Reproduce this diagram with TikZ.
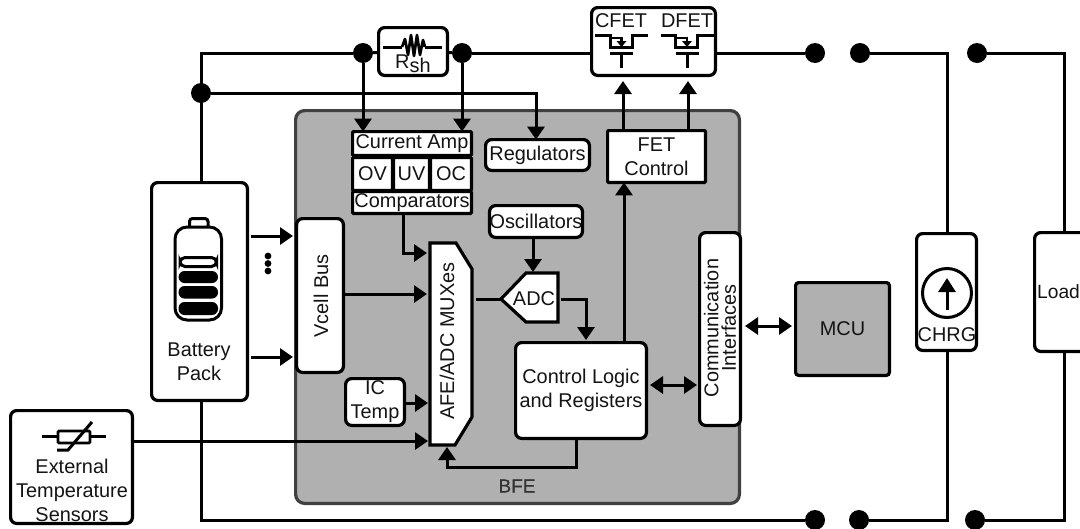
\documentclass[tikz,border=0pt]{standalone}
\usepackage{fontspec}
\setmainfont{Liberation Sans}
\usetikzlibrary{arrows.meta,calc}
\definecolor{bfegray}{HTML}{B0B0B0}
\definecolor{ink}{HTML}{141414}
\newlength{\lw}\setlength{\lw}{3.2pt}
\tikzset{
  wire/.style={line width=3pt,draw=black,line join=miter},
  arr/.style={wire,-{Triangle[length=13pt,width=17pt]}},
  darr/.style={wire,{Triangle[length=13pt,width=17pt]}-{Triangle[length=13pt,width=17pt]}},
  txt/.style={font=\fontsize{19.9}{24}\selectfont,text=ink,align=center,inner sep=0pt},
  box/.style={draw=black,line width=\lw,fill=white,inner sep=0pt,outer sep=0pt,rounded corners=6pt},
  sharpbox/.style={box,rounded corners=1pt},
  dot/.style={circle,fill=black,draw=none,minimum size=20pt,inner sep=0pt},
  sym/.style={line width=3pt,draw=black,line join=miter},
}
% [style] name x1 y1 x2 y2 text
\newcommand{\bx}[7][box]{%
  \pgfmathsetmacro{\bxw}{#5-(#3)-3.2}%
  \pgfmathsetmacro{\bxh}{#6-(#4)-3.2}%
  \pgfmathsetmacro{\bxcx}{(#3+#5)/2}%
  \pgfmathsetmacro{\bxcy}{(#4+#6)/2}%
  \node[#1,txt,minimum width=\bxw pt,minimum height=\bxh pt] (#2) at (\bxcx,\bxcy) {#7};}
\newcommand{\fet}[2]{%
  \begin{scope}[shift={(#1,0)}]
    \draw[sym] (595,35) -- (610,35) -- (610,47) -- (632,47) -- (632,35) -- (648,35);
    \draw[line width=2.4pt] (610,38) -- (621.5,38) -- (621.5,42);
    \fill (616.5,41) -- (626.5,41) -- (621.5,47) -- cycle;
    \draw[sym] (610,53.5) -- (633,53.5);
    \draw[sym] (621.5,53.5) -- (621.5,68);
  \end{scope}}
\begin{document}
\begin{tikzpicture}[x=1pt,y=-1pt]
\useasboundingbox (0,0) rectangle (1080,528);
\clip (0,0) rectangle (1080,528);

% BFE background
\bx[box,fill=bfegray,draw=black!75,rounded corners=9pt]{bfe}{294}{109}{741}{505}{}
\node[txt,text=black!80,font=\fontsize{19}{24}\selectfont\addfontfeature{FakeBold=0.5}] (bfelabel) at (517,486) {BFE};

% junction dots
\node[dot] (dtap) at (201,93) {};
\node[dot] (d1) at (363,53) {};
\node[dot] (d2) at (462,53) {};
\node[dot] (d3) at (815,53) {};
\node[dot] (d4) at (860,53) {};
\node[dot] (d5) at (977,53) {};
\node[dot] (d6) at (815,520) {};
\node[dot] (d7) at (859,520) {};
\node[dot] (d8) at (975,520) {};

% boxes
\bx{batt}{150}{181}{249}{402}{}
\node[txt] (battlabel) at (199,362) {Battery\\[0pt]Pack};
\bx{ext}{9}{409}{134}{525}{}
\node[txt] (extlabel) at (72,490) {External\\Temperature\\Sensors};
\bx{rsh}{377}{26}{449}{77}{}
\bx{fets}{590}{6}{717}{77}{}
\node[txt] (cfet) at (621,21) {CFET};
\node[txt] (dfet) at (687,21) {DFET};
\bx{chrg}{915}{232}{978}{352}{}
\node[txt] (chrglabel) at (947,335) {CHRG};
\bx{load}{1033}{231}{1110}{353}{}
\node[txt,anchor=west,font=\fontsize{19.2}{24}\selectfont] (loadlabel) at (1037,292) {Load};
\bx[sharpbox,rounded corners=3pt,fill=bfegray]{mcu}{794}{281}{891}{377}{MCU}
\bx{vcell}{295}{217}{345}{374}{}
\node[txt,rotate=90] (vcelllabel) at (321,296) {Vcell Bus};
\bx{comm}{698}{231}{742}{427}{}
\node[txt,rotate=90,font=\fontsize{19.9}{17.5}\selectfont] (commlabel) at (720,328) {Communication\\Interfaces};
\bx{ctrl}{514}{341}{648}{440}{Control Logic\\and Registers}
\bx[sharpbox]{fetc}{606}{129}{707}{184}{FET\\Control}
\bx{regs}{484}{138}{591}{172}{Regulators}
\bx{osc}{488}{204}{584}{239}{Oscillators}
\bx{ictemp}{344}{377}{406}{427}{}
\node[txt] (ictemplabel) at (375,402) {IC\\Temp};
\bx[sharpbox]{camp}{351}{130}{473}{157}{Current Amp}
\bx[sharpbox]{ov}{351}{156}{394}{192}{OV}
\bx[sharpbox]{uv}{392}{156}{431}{192}{UV}
\bx[sharpbox]{oc}{429}{156}{473}{192}{OC}
\bx[sharpbox]{comp}{351}{190}{473}{215}{Comparators}

% MUX and ADC outlines
\coordinate (muxa) at (430,243); \coordinate (muxb) at (456,243);
\coordinate (muxc) at (472,269); \coordinate (muxd) at (472,417);
\coordinate (muxe) at (455,445); \coordinate (muxf) at (430,445);
\draw[box,rounded corners=0pt] (muxa) -- (muxb) -- (muxc) -- (muxd) -- (muxe) -- (muxf) -- cycle;
\node[txt,rotate=90] (muxlabel) at (447,341) {AFE/ADC MUXes};
\coordinate (adctip) at (501,299); \coordinate (adcb) at (526,273);
\coordinate (adcc) at (558,273); \coordinate (adcd) at (558,322); \coordinate (adce) at (526,322);
\draw[box,rounded corners=0pt] (adctip) -- (adcb) -- (adcc) -- (adcd) -- (adce) -- cycle;
\node[txt] (adclabel) at (534,299) {ADC};

% power wires
\draw[wire] (batt.north -| dtap) -- (dtap |- d1) -- (d1);
\draw[wire] (d1) -- (rsh);
\draw[wire] (rsh) -- (d2);
\draw[wire] (d2) -- (fets.west |- d2);
\draw[wire] (fets.east |- d3) -- (d3);
\coordinate (chrgx) at (947,53);
\coordinate (loadx) at (1064,53);
\draw[wire] (d4) -- (chrgx) -- (chrg.north -| chrgx);
\draw[wire] (d5) -- (loadx) -- (load.north -| loadx);
\draw[wire] (batt.south -| dtap) -- (dtap |- d6) -- (d6);
\draw[wire] (d7) -- (chrgx |- d7) -- (chrg.south -| chrgx);
\draw[wire] (d8) -- (loadx |- d8) -- (load.south -| loadx);

% signal wires
\coordinate (regx) at (536,93);
\draw[arr] (dtap) -- (regx) -- (regx |- regs.north);
\draw[arr] (d1) -- (d1 |- camp.north);
\draw[arr] (d2) -- (d2 |- camp.north);
\coordinate (g1) at (623,77); \coordinate (g2) at (688,77);
\draw[arr] (g1 |- fetc.north) -- ($(g1)+(0,4)$);
\draw[arr] (g2 |- fetc.north) -- ($(g2)+(0,4)$);
\coordinate (cu) at (624,341);
\draw[arr] (cu) -- (cu |- fetc.south);
\coordinate (ov1) at (533,239);
\draw[arr] (ov1) -- (533,272);
\coordinate (a1) at (403,215); \coordinate (a2) at (427,253);
\draw[arr] (a1) |- (a2);
\coordinate (a3) at (345,294); \coordinate (a4) at (427,294);
\draw[arr] (a3) -- (a4);
\coordinate (a5) at (406,403); \coordinate (a6) at (428,403);
\draw[arr] (a5) -- (a6);
\coordinate (a7) at (134,441); \coordinate (a8) at (428,441);
\draw[arr] (a7) -- (a8);
\coordinate (m1) at (476,299);
\draw[wire] (m1) -- (adctip);
\coordinate (ad1) at (561,299); \coordinate (ad2) at (586,340);
\draw[arr] (ad1) -| (ad2);
\coordinate (fb1) at (576,440); \coordinate (fb2) at (447,467); \coordinate (fb3) at (447,447);
\draw[arr] (fb1) |- (fb2) -- (fb3);
\coordinate (da1) at (650,385); \coordinate (da2) at (697,385);
\draw[darr] (da1) -- (da2);
\coordinate (da3) at (745,326); \coordinate (da4) at (792,326);
\draw[darr] (da3) -- (da4);
\coordinate (b1) at (251,236); \coordinate (b2) at (293,236);
\draw[arr] (b1) -- (b2);
\coordinate (b3) at (251,357); \coordinate (b4) at (293,357);
\draw[arr] (b3) -- (b4);
\fill (268,256) circle (3.4pt) (268,263.5) circle (3.4pt) (268,271) circle (3.4pt);

% Rsh symbol
\draw[sym] (383,47) -- (402,47);
\draw[sym] (425,47) -- (442,47);
\draw[line width=2.7pt,line join=round] (402,47) -- (405,39) -- (408,55) -- (411,35) -- (414,56) -- (417,35) -- (420,55) -- (423,40) -- (425,47);
\node[txt,anchor=base west] (rshlabel) at (395,68) {R\raisebox{-4.5pt}{sh}};

% FET symbols
\fet{0}{}
\fet{65.5}{}

% source circle
\draw[line width=3pt,fill=white] (947,293) circle (24.5pt);
\draw[wire,-{Triangle[length=14pt,width=17pt]}] (947,310) -- (947,278);

% battery icon
\draw[line width=3pt,rounded corners=3pt,fill=white] (189.5,227) -- (189.5,218.5) -- (208,218.5) -- (208,227);
\draw[line width=3pt,rounded corners=12pt,fill=white] (175,227) rectangle (221.5,320);
\draw[line width=3pt,rounded corners=5pt,fill=white] (180,257.5) rectangle (216.5,266.5);
\fill[rounded corners=6pt] (178.5,271) rectangle (218,283);
\fill[rounded corners=6pt] (178.5,286) rectangle (218,298.5);
\fill[rounded corners=6pt] (178.5,302) rectangle (218,315);

% thermistor symbol
\draw[sym] (42,436) -- (106,436);
\draw[line width=2.8pt,fill=white,rounded corners=1pt] (58,431) rectangle (90,443);
\draw[sym] (57,450) -- (68,450) -- (92,422);
\end{tikzpicture}
\end{document}
